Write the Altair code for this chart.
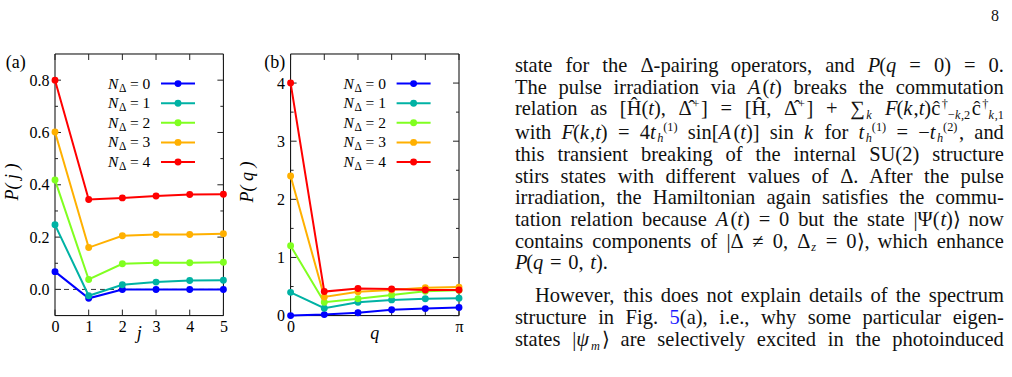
import math

import altair as alt
import pandas as pd

# ---------------------------------------------------------------- data
j_values = [0, 1, 2, 3, 4, 5]
q_values = [0, math.pi / 5, 2 * math.pi / 5, 3 * math.pi / 5, 4 * math.pi / 5, math.pi]
n_delta = [0, 1, 2, 3, 4]
series_colors = ["#0000ff", "#00b2a4", "#80ff20", "#ffb000", "#ff0000"]

# P(j) for N_Delta = 0..4
pj_n0 = [0.068, -0.034, 0.000, 0.000, 0.000, 0.000]
pj_n1 = [0.247, -0.024, 0.018, 0.028, 0.034, 0.035]
pj_n2 = [0.418, 0.038, 0.098, 0.102, 0.102, 0.104]
pj_n3 = [0.602, 0.160, 0.205, 0.210, 0.210, 0.213]
pj_n4 = [0.800, 0.344, 0.350, 0.357, 0.363, 0.364]

# P(q) for N_Delta = 0..4
pq_n0 = [0.00, 0.017, 0.05, 0.10, 0.12, 0.138]
pq_n1 = [0.40, 0.126, 0.23, 0.27, 0.29, 0.30]
pq_n2 = [1.20, 0.23, 0.29, 0.356, 0.42, 0.436]
pq_n3 = [2.40, 0.32, 0.41, 0.44, 0.48, 0.49]
pq_n4 = [4.00, 0.413, 0.465, 0.459, 0.44, 0.44]

pj_tick_major = [0.0, 0.2, 0.4, 0.6, 0.8]
pj_tick_minor = [0.1, 0.3, 0.5, 0.7]
pq_tick_major = [0, 1, 2, 3, 4]
pq_tick_minor = [0.5, 1.5, 2.5, 3.5]

# ---------------------------------------------------------------- layout
PLOT_W = 168.4
PLOT_H = 261.6
GAP = 66.6
A_LEFT, TOP = 54.3, 52.7
B_LEFT = A_LEFT + PLOT_W + GAP
T_LEFT = B_LEFT + PLOT_W + GAP

SERIF = "Liberation Serif"
INK = "#111111"
TICK_FS = 16
KEY_FS = 15.5
MAJOR_LEN, MINOR_LEN = 6, 3


def series_frame(xs, ys_list):
    rows = []
    for n, ys, col in zip(n_delta, ys_list, series_colors):
        for x, y in zip(xs, ys):
            rows.append({"x": x, "y": y, "n": n, "col": col})
    return pd.DataFrame(rows)


def legend_frame():
    rows = []
    for k, (n, col) in enumerate(zip(n_delta, series_colors)):
        yc = 29.6 + 19.6 * k
        rows.append({"ly": yc, "lx1": 106, "lx2": 140, "dx": 123, "col": col,
                     "tn": "N", "td": "Δ", "te": f"= {n}",
                     "xn": 53, "xd": 64, "xe": 75, "yb": yc + 5, "yd": yc + 8})
    return pd.DataFrame(rows)


def panel(xs, ys_list, xdom, ydom, x_ticks, x_label_vals, x_label_expr,
          y_major, y_minor, y_fmt, ytitle, xtitle, tag, tag_x, zero_line, anchor):
    xs_scale = alt.Scale(domain=xdom, nice=False, zero=False)
    ys_scale = alt.Scale(domain=ydom, nice=False, zero=False)
    x_axis = alt.Axis(values=x_label_vals, labelExpr=x_label_expr, ticks=False, tickSize=0,
                      domain=False, grid=False, labelFont=SERIF, labelFontSize=TICK_FS,
                      labelColor="black", labelPadding=3, labelFlush=False,
                      labelOverlap=False, title=None)
    y_axis = alt.Axis(values=y_major, format=y_fmt, ticks=False, tickSize=0, domain=False,
                      grid=False, labelFont=SERIF, labelFontSize=TICK_FS, labelColor="black",
                      labelPadding=6, labelFlush=False, labelOverlap=False, title=None)
    X = alt.X("x:Q", scale=xs_scale, axis=x_axis)
    Y = alt.Y("y:Q", scale=ys_scale, axis=y_axis)

    layers = []
    one = pd.DataFrame({"k": [0]})
    if anchor:
        layers.append(alt.Chart(one).mark_rect(opacity=0).encode(
            x=alt.value(-A_LEFT), x2=alt.value(-A_LEFT + 1),
            y=alt.value(-TOP), y2=alt.value(-TOP + 1)))

    # frame
    layers.append(alt.Chart(one).mark_rect(filled=False, stroke="black", strokeWidth=1).encode(
        x=alt.value(0), x2=alt.value(PLOT_W), y=alt.value(0), y2=alt.value(PLOT_H)))

    # inward ticks on all four sides
    xt = pd.DataFrame({"x": x_ticks})
    layers.append(alt.Chart(xt).mark_rule(color="#222", strokeWidth=1).encode(
        x=X, y=alt.value(PLOT_H), y2=alt.value(PLOT_H - MAJOR_LEN)))
    layers.append(alt.Chart(xt).mark_rule(color="#222", strokeWidth=1).encode(
        x=X, y=alt.value(0), y2=alt.value(MAJOR_LEN)))
    for vals, ln in ((y_major, MAJOR_LEN), (y_minor, MINOR_LEN)):
        yt = pd.DataFrame({"y": vals})
        layers.append(alt.Chart(yt).mark_rule(color="#222", strokeWidth=1).encode(
            y=Y, x=alt.value(0), x2=alt.value(ln)))
        layers.append(alt.Chart(yt).mark_rule(color="#222", strokeWidth=1).encode(
            y=Y, x=alt.value(PLOT_W - ln), x2=alt.value(PLOT_W)))

    if zero_line:
        zl = pd.DataFrame({"x": [xdom[0]], "x2": [xdom[1]], "y": [0.0]})
        layers.append(alt.Chart(zl).mark_rule(color="#333", strokeWidth=1, strokeDash=[5, 4]).encode(
            x=X, x2="x2:Q", y=Y))

    df = series_frame(xs, ys_list)
    for n in n_delta:
        base = alt.Chart(df).transform_filter(f"datum.n == {n}")
        layers.append(base.mark_line(strokeWidth=2).encode(
            x=X, y=Y, color=alt.Color("col:N", scale=None)))
        layers.append(base.mark_point(filled=True, size=48, opacity=1).encode(
            x=X, y=Y, color=alt.Color("col:N", scale=None)))

    # key
    lg = alt.Chart(legend_frame())
    layers.append(lg.mark_rule(strokeWidth=2).encode(
        x=alt.X("lx1:Q", scale=None), x2="lx2:Q", y=alt.Y("ly:Q", scale=None),
        color=alt.Color("col:N", scale=None)))
    layers.append(lg.mark_point(filled=True, size=48, opacity=1).encode(
        x=alt.X("dx:Q", scale=None), y=alt.Y("ly:Q", scale=None),
        color=alt.Color("col:N", scale=None)))
    layers.append(lg.mark_text(font=SERIF, fontSize=KEY_FS, fontStyle="italic", align="left",
                               baseline="alphabetic", color="black").encode(
        x=alt.X("xn:Q", scale=None), y=alt.Y("yb:Q", scale=None), text="tn:N"))
    layers.append(lg.mark_text(font=SERIF, fontSize=11.5, align="left",
                               baseline="alphabetic", color="black").encode(
        x=alt.X("xd:Q", scale=None), y=alt.Y("yd:Q", scale=None), text="td:N"))
    layers.append(lg.mark_text(font=SERIF, fontSize=KEY_FS, align="left",
                               baseline="alphabetic", color="black").encode(
        x=alt.X("xe:Q", scale=None), y=alt.Y("yb:Q", scale=None), text="te:N"))

    # axis titles and panel tag
    layers.append(alt.Chart(one).mark_text(text=ytitle, font=SERIF, fontSize=18, fontStyle="italic",
                                           angle=270, align="center", baseline="alphabetic",
                                           color="black").encode(
        x=alt.value(17 - A_LEFT), y=alt.value(128)))
    layers.append(alt.Chart(one).mark_text(text=xtitle, font=SERIF, fontSize=18, fontStyle="italic",
                                           align="center", baseline="alphabetic",
                                           color="black").encode(
        x=alt.value(PLOT_W / 2), y=alt.value(338 - TOP)))
    layers.append(alt.Chart(one).mark_text(text=tag, font=SERIF, fontSize=18, align="left",
                                           baseline="alphabetic", color="black").encode(
        x=alt.value(tag_x), y=alt.value(67 - TOP)))

    return alt.layer(*layers).properties(width=PLOT_W, height=PLOT_H)


panel_a = panel(j_values, [pj_n0, pj_n1, pj_n2, pj_n3, pj_n4], [0, 5], [-0.1, 0.9],
                j_values, j_values, "datum.label", pj_tick_major, pj_tick_minor, ".1f",
                "P( j )", "j", "(a)", 5 - A_LEFT, True, True)
panel_b = panel(q_values, [pq_n0, pq_n1, pq_n2, pq_n3, pq_n4], [0, math.pi], [0, 4.5],
                q_values, [0, math.pi], "datum.value < 1 ? '0' : 'π'", pq_tick_major,
                pq_tick_minor, "d", "P( q )", "q", "(b)", 263 - B_LEFT, False, False)

# ---------------------------------------------------------------- body text
BODY_FS = 20.5
TEXT_L, TEXT_R, INDENT = 513, 1002, 533
LINK = "#1a1aff"
SCRIPT_KERN = 1.5

TIMES = {" ": 250, "(": 333, ")": 333, "[": 333, "]": 333, ",": 250, ".": 250, "-": 333,
         "=": 564, "+": 564, "−": 564, "≠": 564, "|": 200, "†": 500, "⟩": 333, "∑": 713,
         "Δ": 612, "Ψ": 780, "ψ": 640, "π": 550, "Ĥ": 722, "ĉ": 444,
         "0": 500, "1": 500, "2": 500, "3": 500, "4": 500, "5": 500, "6": 500, "7": 500,
         "8": 500, "9": 500,
         "A": 722, "B": 667, "C": 667, "D": 722, "E": 611, "F": 556, "G": 722, "H": 722,
         "I": 333, "J": 389, "K": 722, "L": 611, "M": 889, "N": 722, "O": 722, "P": 556,
         "Q": 722, "R": 667, "S": 556, "T": 611, "U": 722, "V": 722, "W": 944, "X": 722,
         "Y": 722, "Z": 611,
         "a": 444, "b": 500, "c": 444, "d": 500, "e": 444, "f": 333, "g": 500, "h": 500,
         "i": 278, "j": 278, "k": 500, "l": 278, "m": 778, "n": 500, "o": 500, "p": 500,
         "q": 500, "r": 333, "s": 389, "t": 278, "u": 500, "v": 500, "w": 722, "x": 500,
         "y": 500, "z": 444}


def text_width(s, fs):
    w = 0
    for ch in s:
        if 0x300 <= ord(ch) <= 0x36F:
            continue
        w += TIMES.get(ch, 550)
    return w * fs / 1000


# segments are split by ` ; prefixes: _ italic, ~ link colour, ^ superscript, § subscript
body_lines = [
    ("state for the Δ-pairing operators, and _P`(`_q = 0) = 0.", 71, TEXT_L, True),
    ("The pulse irradiation via _A`(`_t`) breaks the commutation", 93, TEXT_L, True),
    ("relation as [`Ĥ`(`_t`), Δ̂`^+`] = [`Ĥ`, Δ̂`^+`] + ∑`§_k "
     "_F`(`_k`,`_t`)`ĉ`^†`§−`§_k`§,2`ĉ`^†`§_k`§,1", 114, TEXT_L, True),
    ("with _F`(`_k`,`_t`) = 4`_t`§_h`^(1) sin[`_A`(`_t`)] sin _k for "
     "_t`§_h`^(1) = −`_t`§_h`^(2)`, and", 137.5, TEXT_L, True),
    ("this transient breaking of the internal SU(2) structure", 160, TEXT_L, True),
    ("stirs states with different values of Δ. After the pulse", 181.5, TEXT_L, True),
    ("irradiation, the Hamiltonian again satisfies the commu-", 203, TEXT_L, True),
    ("tation relation because _A`(`_t`) = 0 but the state |Ψ(`_t`)⟩ now", 224.5, TEXT_L, True),
    ("contains components of |Δ ≠ 0, Δ`§_z = 0⟩, which enhance", 246.5, TEXT_L, True),
    ("_P`(`_q = 0, _t`).", 268, TEXT_L, False),
    ("However, this does not explain details of the spectrum", 301, INDENT, True),
    ("structure in Fig. ~5`(a), i.e., why some particular eigen-", 323, TEXT_L, True),
    ("states |`_ψ`§_m`⟩ are selectively excited in the photoinduced", 345, TEXT_L, True),
]


def parse_word(word):
    segs = []
    for raw in word.split("`"):
        flags = set()
        while raw and raw[0] in "_~^§":
            flags.add(raw[0])
            raw = raw[1:]
        segs.append((raw, flags))
    return segs


def is_script(flags):
    return "^" in flags or "§" in flags


def seg_style(flags):
    if "^" in flags:
        return BODY_FS * 0.6, -0.36 * BODY_FS
    if "§" in flags:
        return BODY_FS * 0.6, 0.17 * BODY_FS
    return BODY_FS, 0.0


def layout_word(segs, x0):
    """Return (placed segments, end x) for one word starting at x0."""
    placed = []
    cx = x0
    prev_script = False
    for i, (s, flags) in enumerate(segs):
        fs, dy = seg_style(flags)
        scr = is_script(flags)
        if i > 0 and scr != prev_script:
            cx += SCRIPT_KERN
        placed.append((cx, dy, s, fs, flags))
        cx += text_width(s, fs)
        prev_script = scr
    return placed, cx


text_rows = []
for text, base_y, left, justify in body_lines:
    words = [parse_word(w) for w in text.split()]
    widths = [layout_word(w, 0)[1] for w in words]
    if justify and len(words) > 1:
        gap = (TEXT_R - left - sum(widths)) / (len(words) - 1)
    else:
        gap = text_width(" ", BODY_FS) * 1.3
    x = left
    for segs, wd in zip(words, widths):
        placed, _ = layout_word(segs, x)
        for cx, dy, s, fs, flags in placed:
            text_rows.append({"px": cx - T_LEFT, "py": base_y + dy - TOP, "t": s, "fs": fs,
                              "it": "_" in flags, "col": LINK if "~" in flags else INK})
        x += wd + gap

# page number
text_rows.append({"px": 989 - T_LEFT, "py": 20 - TOP, "t": "8", "fs": 16, "it": False, "col": INK})

tdf = pd.DataFrame(text_rows)
tbase = alt.Chart(tdf)
enc = dict(x=alt.X("px:Q", scale=None, axis=None), y=alt.Y("py:Q", scale=None, axis=None),
           text="t:N", size=alt.Size("fs:Q", scale=None), color=alt.Color("col:N", scale=None))
text_panel = alt.layer(
    tbase.transform_filter("!datum.it").mark_text(font=SERIF, align="left",
                                                  baseline="alphabetic").encode(**enc),
    tbase.transform_filter("datum.it").mark_text(font=SERIF, fontStyle="italic", align="left",
                                                 baseline="alphabetic").encode(**enc),
).properties(width=470, height=PLOT_H)

chart = alt.hconcat(panel_a, panel_b, text_panel, spacing=GAP, bounds="flush").properties(
    padding=0, background="white"
).configure_view(stroke="transparent")

chart.save("out.html", embed_options={"renderer": "svg", "actions": False})
